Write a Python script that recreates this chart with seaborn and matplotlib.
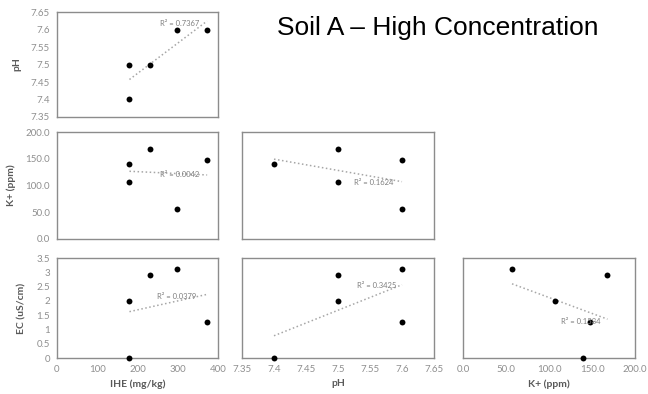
import numpy as np
import pandas as pd
import matplotlib
matplotlib.use("Agg")
import matplotlib.pyplot as plt
import seaborn as sns

# ---- data ----
ihe = [180, 180, 232, 298, 373]          # IHE (mg/kg)
ph = [7.4, 7.5, 7.5, 7.6, 7.6]           # pH
k_ppm = [140, 107, 168, 57, 148]         # K+ (ppm)
ec = [0.0, 2.0, 2.9, 3.1, 1.25]          # EC (uS/cm)

r2_labels = {
    ("IHE", "pH"): "R² = 0.7367",
    ("IHE", "K"): "R² = 0.0042",
    ("pH", "K"): "R² = 0.1624",
    ("IHE", "EC"): "R² = 0.0379",
    ("pH", "EC"): "R² = 0.3425",
    ("K", "EC"): "R² = 0.1584",
}
title = "Soil A – High Concentration"
var_labels = {"IHE": "IHE (mg/kg)", "pH": "pH", "K": "K+ (ppm)", "EC": "EC (uS/cm)"}

df = pd.DataFrame({"IHE": ihe, "pH": ph, "K": k_ppm, "EC": ec})

sns.set_theme(style="white")
plt.rcParams["font.family"] = ["Lato", "DejaVu Sans"]

W, H = 648, 394
fig = plt.figure(figsize=(W / 100, H / 100), dpi=100)

cols = {"IHE": (57, 218), "pH": (242, 434), "K": (463, 635)}
rows = {"pH": (12, 117), "K": (132, 239), "EC": (258, 358)}

limits = {
    "IHE": (0, 400, np.arange(0, 401, 100), lambda v: f"{v:g}"),
    "pH": (7.35, 7.65, np.arange(7.35, 7.651, 0.05), lambda v: f"{v:.2f}".rstrip("0").rstrip(".")),
    "K": (0, 200, np.arange(0, 201, 50), lambda v: f"{v:.1f}"),
    "EC": (0, 3.5, np.arange(0, 3.51, 0.5), lambda v: f"{v:g}"),
}

r2_pos = {
    ("IHE", "pH"): (305, 7.618),
    ("IHE", "K"): (305, 121),
    ("pH", "K"): (7.556, 106),
    ("IHE", "EC"): (298, 2.14),
    ("pH", "EC"): (7.56, 2.55),
    ("K", "EC"): (137, 1.26),
}

pairs = [("IHE", "pH"), ("IHE", "K"), ("pH", "K"), ("IHE", "EC"), ("pH", "EC"), ("K", "EC")]
tick_color = "#8f8f8f"
label_color = "#595959"

for xv, yv in pairs:
    x0, x1 = cols[xv]
    y0, y1 = rows[yv]
    ax = fig.add_axes([x0 / W, 1 - y1 / H, (x1 - x0) / W, (y1 - y0) / H])
    sns.regplot(data=df, x=xv, y=yv, ax=ax, ci=None, truncate=True,
                scatter_kws=dict(s=18, color="black", alpha=1, clip_on=False, zorder=5, linewidths=0),
                line_kws=dict(color="#a6a6a6", ls=":", lw=1.1))
    xl = limits[xv]
    yl = limits[yv]
    ax.set_xlim(xl[0], xl[1])
    ax.set_ylim(yl[0], yl[1])
    ax.set_xticks(xl[2])
    ax.set_yticks(yl[2])
    ax.set_xlabel("")
    ax.set_ylabel("")
    for s in ax.spines.values():
        s.set_color("#8c8c8c")
        s.set_linewidth(1.0)
    ax.tick_params(length=0, labelsize=7, colors=tick_color, pad=5)
    if yv == "EC":
        ax.set_xticklabels([xl[3](v) for v in xl[2]])
        ax.set_xlabel(var_labels[xv], fontsize=7.5, color=label_color, fontweight="bold", labelpad=4)
    else:
        ax.set_xticklabels([])
    if xv == "IHE":
        ax.set_yticklabels([yl[3](v) for v in yl[2]])
        ax.set_ylabel(var_labels[yv], fontsize=7.5, color=label_color, fontweight="bold", labelpad=7)
    else:
        ax.set_yticklabels([])
    tx, ty = r2_pos[(xv, yv)]
    ax.text(tx, ty, r2_labels[(xv, yv)], fontsize=5.5, color="#7f7f7f",
            ha="center", va="center", zorder=6)

fig.text(438 / W, 1 - 28 / H, title, fontsize=19, family=["Liberation Sans", "DejaVu Sans"],
         color="black", ha="center", va="center")

fig.savefig("out.png", dpi=100, facecolor="white")
